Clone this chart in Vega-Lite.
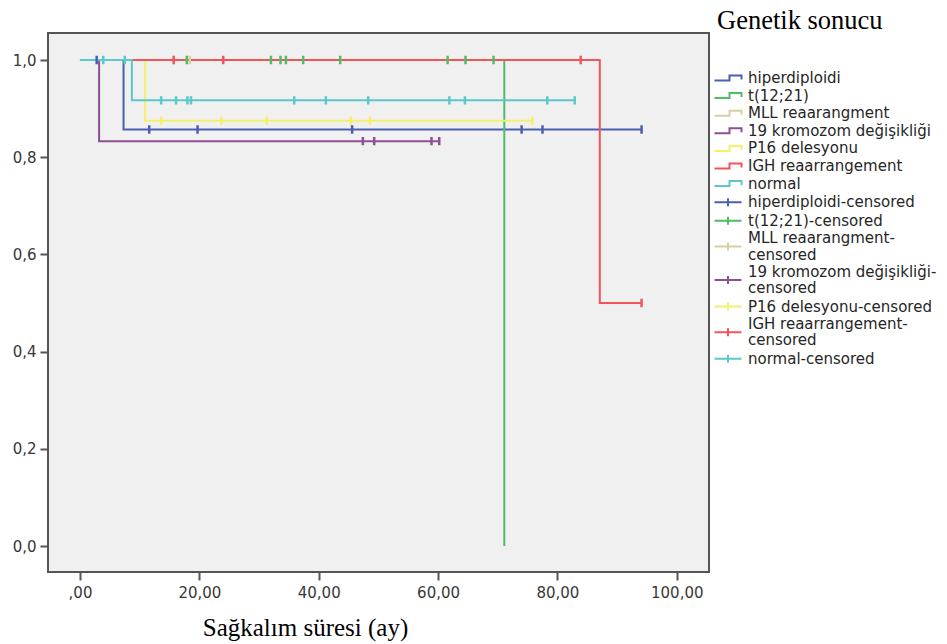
{
  "$schema": "https://vega.github.io/schema/vega-lite/v6.json",
  "width": 661,
  "height": 539,
  "autosize": {"type": "none"},
  "padding": {"left": 48, "top": 33, "right": 238, "bottom": 72},
  "background": "white",
  "config": {
    "view": {"fill": "#F0F0F0", "stroke": "#555555", "strokeWidth": 2},
    "axis": {
      "domain": false,
      "grid": false,
      "tickColor": "#555555",
      "tickWidth": 2,
      "tickSize": 8,
      "labelFont": "DejaVu Sans",
      "labelFontSize": 15,
      "labelColor": "#383838"
    }
  },
  "datasets": {
    "egriler": [
      {"grup": "hiperdiploidi", "sure": 0, "sagkalim": 1},
      {"grup": "hiperdiploidi", "sure": 7.3, "sagkalim": 0.857},
      {"grup": "hiperdiploidi", "sure": 94.1, "sagkalim": 0.857},
      {"grup": "t(12;21)", "sure": 0, "sagkalim": 1},
      {"grup": "t(12;21)", "sure": 71.1, "sagkalim": 0},
      {"grup": "MLL reaarangment", "sure": 0, "sagkalim": 1},
      {"grup": "MLL reaarangment", "sure": 18.4, "sagkalim": 1},
      {"grup": "19 kromozom değişikliği", "sure": 0, "sagkalim": 1},
      {"grup": "19 kromozom değişikliği", "sure": 3.2, "sagkalim": 0.833},
      {"grup": "19 kromozom değişikliği", "sure": 60.2, "sagkalim": 0.833},
      {"grup": "P16 delesyonu", "sure": 0, "sagkalim": 1},
      {"grup": "P16 delesyonu", "sure": 10.9, "sagkalim": 0.875},
      {"grup": "P16 delesyonu", "sure": 75.8, "sagkalim": 0.875},
      {"grup": "IGH reaarrangement", "sure": 0, "sagkalim": 1},
      {"grup": "IGH reaarrangement", "sure": 87.1, "sagkalim": 0.5},
      {"grup": "IGH reaarrangement", "sure": 94.1, "sagkalim": 0.5},
      {"grup": "normal", "sure": 0, "sagkalim": 1},
      {"grup": "normal", "sure": 8.7, "sagkalim": 0.917},
      {"grup": "normal", "sure": 83.0, "sagkalim": 0.917}
    ],
    "sansurlu": [
      {"etiket": "hiperdiploidi-censored", "sure": 2.8, "sagkalim": 1},
      {"etiket": "hiperdiploidi-censored", "sure": 11.6, "sagkalim": 0.857},
      {"etiket": "hiperdiploidi-censored", "sure": 19.7, "sagkalim": 0.857},
      {"etiket": "hiperdiploidi-censored", "sure": 45.6, "sagkalim": 0.857},
      {"etiket": "hiperdiploidi-censored", "sure": 74.0, "sagkalim": 0.857},
      {"etiket": "hiperdiploidi-censored", "sure": 77.5, "sagkalim": 0.857},
      {"etiket": "hiperdiploidi-censored", "sure": 94.1, "sagkalim": 0.857},
      {"etiket": "t(12;21)-censored", "sure": 17.9, "sagkalim": 1},
      {"etiket": "t(12;21)-censored", "sure": 32.0, "sagkalim": 1},
      {"etiket": "t(12;21)-censored", "sure": 33.6, "sagkalim": 1},
      {"etiket": "t(12;21)-censored", "sure": 34.5, "sagkalim": 1},
      {"etiket": "t(12;21)-censored", "sure": 37.4, "sagkalim": 1},
      {"etiket": "t(12;21)-censored", "sure": 43.6, "sagkalim": 1},
      {"etiket": "t(12;21)-censored", "sure": 61.6, "sagkalim": 1},
      {"etiket": "t(12;21)-censored", "sure": 64.6, "sagkalim": 1},
      {"etiket": "t(12;21)-censored", "sure": 69.3, "sagkalim": 1},
      {"etiket": "MLL reaarangment-censored", "sure": 18.4, "sagkalim": 1},
      {"etiket": "19 kromozom değişikliği-censored", "sure": 47.4, "sagkalim": 0.833},
      {"etiket": "19 kromozom değişikliği-censored", "sure": 49.3, "sagkalim": 0.833},
      {"etiket": "19 kromozom değişikliği-censored", "sure": 58.9, "sagkalim": 0.833},
      {"etiket": "19 kromozom değişikliği-censored", "sure": 60.2, "sagkalim": 0.833},
      {"etiket": "P16 delesyonu-censored", "sure": 13.6, "sagkalim": 0.875},
      {"etiket": "P16 delesyonu-censored", "sure": 23.7, "sagkalim": 0.875},
      {"etiket": "P16 delesyonu-censored", "sure": 31.3, "sagkalim": 0.875},
      {"etiket": "P16 delesyonu-censored", "sure": 45.4, "sagkalim": 0.875},
      {"etiket": "P16 delesyonu-censored", "sure": 48.6, "sagkalim": 0.875},
      {"etiket": "P16 delesyonu-censored", "sure": 75.8, "sagkalim": 0.875},
      {"etiket": "IGH reaarrangement-censored", "sure": 15.7, "sagkalim": 1},
      {"etiket": "IGH reaarrangement-censored", "sure": 24.0, "sagkalim": 1},
      {"etiket": "IGH reaarrangement-censored", "sure": 83.9, "sagkalim": 1},
      {"etiket": "IGH reaarrangement-censored", "sure": 94.1, "sagkalim": 0.5},
      {"etiket": "normal-censored", "sure": 3.9, "sagkalim": 1},
      {"etiket": "normal-censored", "sure": 7.5, "sagkalim": 1},
      {"etiket": "normal-censored", "sure": 13.6, "sagkalim": 0.917},
      {"etiket": "normal-censored", "sure": 16.1, "sagkalim": 0.917},
      {"etiket": "normal-censored", "sure": 18.0, "sagkalim": 0.917},
      {"etiket": "normal-censored", "sure": 18.6, "sagkalim": 0.917},
      {"etiket": "normal-censored", "sure": 35.9, "sagkalim": 0.917},
      {"etiket": "normal-censored", "sure": 41.2, "sagkalim": 0.917},
      {"etiket": "normal-censored", "sure": 48.3, "sagkalim": 0.917},
      {"etiket": "normal-censored", "sure": 61.9, "sagkalim": 0.917},
      {"etiket": "normal-censored", "sure": 64.5, "sagkalim": 0.917},
      {"etiket": "normal-censored", "sure": 78.3, "sagkalim": 0.917},
      {"etiket": "normal-censored", "sure": 82.9, "sagkalim": 0.917}
    ]
  },
  "layer": [
    {
      "data": {"name": "egriler"},
      "mark": {"type": "line", "interpolate": "step-after", "strokeWidth": 2, "clip": true},
      "encoding": {
        "x": {
          "field": "sure",
          "type": "quantitative",
          "scale": {"domain": [-5.36, 105.4], "nice": false, "zero": false},
          "axis": {
            "values": [0, 20, 40, 60, 80, 100],
            "labelExpr": "datum.value == 0 ? ',00' : replace(format(datum.value, '.2f'), '.', ',')",
            "labelPadding": 5,
            "title": "Sağkalım süresi (ay)",
            "titleFont": "Liberation Serif",
            "titleFontSize": 25,
            "titleFontWeight": "normal",
            "titleColor": "#000000",
            "titleX": 257,
            "titleY": 63,
            "titleAlign": "center",
            "titleBaseline": "alphabetic"
          }
        },
        "y": {
          "field": "sagkalim",
          "type": "quantitative",
          "scale": {"domain": [-0.0535, 1.0556], "nice": false, "zero": false},
          "axis": {
            "values": [0, 0.2, 0.4, 0.6, 0.8, 1],
            "labelExpr": "replace(format(datum.value, '.1f'), '.', ',')",
            "labelPadding": 4,
            "title": null
          }
        },
        "color": {
          "field": "grup",
          "type": "nominal",
          "scale": {
            "domain": [
              "hiperdiploidi", "t(12;21)", "MLL reaarangment", "19 kromozom değişikliği",
              "P16 delesyonu", "IGH reaarrangement", "normal",
              "hiperdiploidi-censored", "t(12;21)-censored", "MLL reaarangment-censored",
              "19 kromozom değişikliği-censored", "P16 delesyonu-censored",
              "IGH reaarrangement-censored", "normal-censored"
            ],
            "range": [
              "#4A5FB0", "#4DBE64", "#D6D0A0", "#8E4F95", "#F5F06A", "#F0555A", "#5CC8CA",
              "#4A5FB0", "#4DBE64", "#D6D0A0", "#8E4F95", "#F5F06A", "#F0555A", "#5CC8CA"
            ]
          },
          "legend": {
            "title": "Genetik sonucu",
            "orient": "none",
            "legendX": 664,
            "legendY": -25,
            "direction": "vertical",
            "columns": 1,
            "padding": 0,
            "titleFont": "Liberation Serif",
            "titleFontSize": 26.5,
            "titleFontWeight": "normal",
            "titleColor": "#000000",
            "titlePadding": 36,
            "labelFont": "DejaVu Sans",
            "labelFontSize": 15,
            "labelColor": "#262626",
            "labelLimit": 300,
            "labelOffset": 21,
            "rowPadding": 1.6,
            "symbolSize": 100,
            "symbolStrokeWidth": 2,
            "labelExpr": "datum.value == 'MLL reaarangment-censored' ? ['MLL reaarangment-', 'censored'] : datum.value == '19 kromozom değişikliği-censored' ? ['19 kromozom değişikliği-', 'censored'] : datum.value == 'IGH reaarrangement-censored' ? ['IGH reaarrangement-', 'censored'] : datum.label",
            "encode": {
              "symbols": {
                "update": {
                  "shape": {"signal": "indexof(datum.value, 'censored') >= 0 ? 'M-1,0L4.4,0M1.7,-0.8L1.7,0.8' : 'M-1,0.5L2,0.5L2,-0.5L4.4,-0.5L4.4,0.3'"},
                  "fill": {"value": "transparent"},
                  "stroke": {"signal": "scale('color', datum.value)"},
                  "strokeWidth": {"value": 2},
                  "opacity": {"value": 1}
                }
              },
              "labels": {
                "update": {
                  "lineHeight": {"value": 16.5},
                  "dy": {"signal": "(datum.value == 'MLL reaarangment-censored' || datum.value == '19 kromozom değişikliği-censored' || datum.value == 'IGH reaarrangement-censored') ? -8.25 : 0"}
                }
              },
              "title": {"update": {"dx": {"value": 5}}}
            }
          }
        }
      }
    },
    {
      "data": {"name": "sansurlu"},
      "mark": {
        "type": "point",
        "shape": "M-0.3,0L0.3,0M0,-1L0,1",
        "filled": false,
        "size": 70,
        "strokeWidth": 2.5,
        "opacity": 1,
        "clip": true
      },
      "encoding": {
        "x": {"field": "sure", "type": "quantitative"},
        "y": {"field": "sagkalim", "type": "quantitative"},
        "color": {"field": "etiket", "type": "nominal"}
      }
    }
  ]
}
